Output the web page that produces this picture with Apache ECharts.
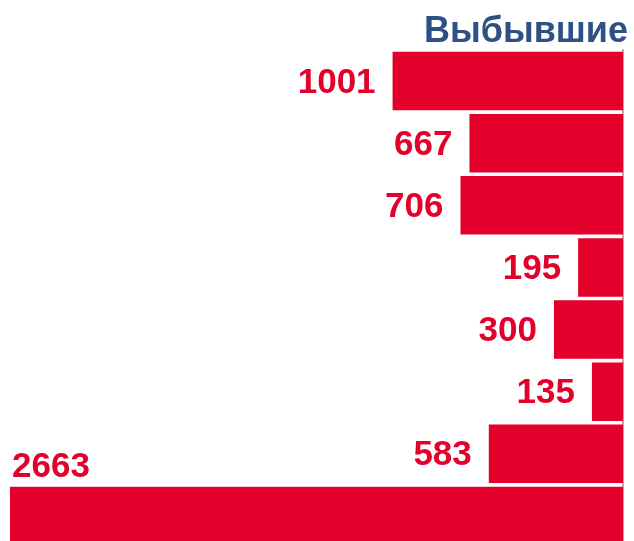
<!DOCTYPE html>
<html>
<head>
<meta charset="utf-8">
<script src="https://cdn.jsdelivr.net/npm/echarts@6/dist/echarts.min.js"></script>
<style>
  html, body { margin: 0; padding: 0; background: #fff; overflow: hidden; }
</style>
</head>
<body>
<!-- taller than the window: the last bar runs off the bottom edge -->
<div id="chart" style="width: 634px; height: 560px"></div>
<script>
var categories = ['1', '2', '3', '4', '5', '6', '7', '8']
var values = [1001, 667, 706, 195, 300, 135, 583, 2663]
var titleText = 'Выбывшие'

var red = '#e3002b'
var chart = echarts.init(document.getElementById('chart'))

var seriesData = values.map(function (v, i) {
  var item = { value: v }
  // the big bar gets its number above it, on the left
  if (i === values.length - 1) {
    item.label = { position: 'insideTopLeft', distance: 0, offset: [2, -37] }
  }
  return item
})

var option = {
  animation: false,
  title: {
    text: titleText,
    right: 1,
    top: 9,
    textStyle: {
      color: '#2e5085',
      fontSize: 36,
      fontWeight: 'bold',
      fontFamily: 'Liberation Sans, Arial, sans-serif'
    }
  },
  grid: {
    left: 10,
    right: 11,
    top: 50,
    height: 497
  },
  xAxis: {
    type: 'value',
    inverse: true,
    min: 0,
    max: 2663,
    show: false
  },
  yAxis: {
    type: 'category',
    data: categories,
    inverse: true,
    position: 'right',
    axisLine: { show: true, lineStyle: { color: '#b0b0b0', width: 2 } },
    axisTick: { show: false },
    axisLabel: { show: false }
  },
  series: [
    {
      type: 'bar',
      barCategoryGap: '6%',
      itemStyle: { color: red },
      label: {
        show: true,
        position: 'left',
        distance: 17,
        offset: [0, 2],
        color: red,
        fontSize: 35,
        fontWeight: 'bold',
        fontFamily: 'Liberation Sans, Arial, sans-serif'
      },
      data: seriesData
    }
  ]
}

chart.setOption(option)
</script>
</body>
</html>
